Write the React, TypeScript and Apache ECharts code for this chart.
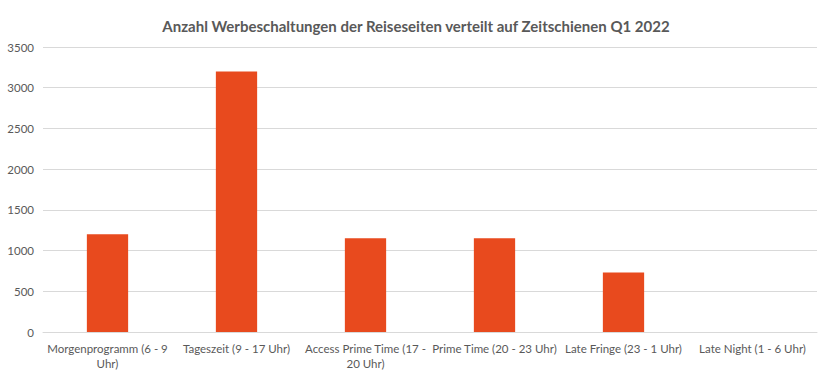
import React, { useEffect, useRef } from "react";
import * as echarts from "echarts";

const titleText = "Anzahl Werbeschaltungen der Reiseseiten verteilt auf Zeitschienen Q1 2022";
const categories = [
  "Morgenprogramm (6 - 9\nUhr)",
  "Tageszeit (9 - 17 Uhr)",
  "Access Prime Time (17 -\n20 Uhr)",
  "Prime Time (20 - 23 Uhr)",
  "Late Fringe (23 - 1 Uhr)",
  "Late Night (1 - 6 Uhr)",
];
const values = [1200, 3200, 1150, 1150, 730, 0];

const FONT = 'Lato, "Open Sans", "Noto Sans", sans-serif';

export default function App() {
  const ref = useRef<HTMLDivElement>(null);
  useEffect(() => {
    if (!ref.current) return;
    const chart = echarts.init(ref.current, null, { renderer: "svg" });
    chart.setOption({
      animation: false,
      backgroundColor: "#ffffff",
      title: {
        text: titleText,
        left: "center",
        top: 13,
        textStyle: { fontFamily: FONT, fontSize: 15, fontWeight: "bold", color: "#595959" },
      },
      grid: { left: 43, right: 15, top: 47, bottom: 52 },
      xAxis: {
        type: "category",
        data: categories,
        axisTick: { show: false },
        axisLine: { lineStyle: { color: "#d9d9d9" } },
        axisLabel: { color: "#595959", fontFamily: FONT, fontSize: 11.5, margin: 9, interval: 0, lineHeight: 15 },
      },
      yAxis: {
        type: "value",
        min: 0,
        max: 3500,
        interval: 500,
        axisLine: { show: false },
        axisTick: { show: false },
        splitLine: { lineStyle: { color: "#d9d9d9" } },
        axisLabel: { color: "#595959", fontFamily: FONT, fontSize: 11.5, margin: 9, formatter: (v: number) => String(v) },
      },
      series: [
        {
          type: "bar",
          data: values,
          barWidth: "32%",
          itemStyle: { color: "#E84A1E" },
        },
      ],
    });
    return () => chart.dispose();
  }, []);
  return (
    <div
      ref={ref}
      style={{ position: "fixed", left: 0, top: 0, width: 832, height: 384, background: "#fff" }}
    />
  );
}
